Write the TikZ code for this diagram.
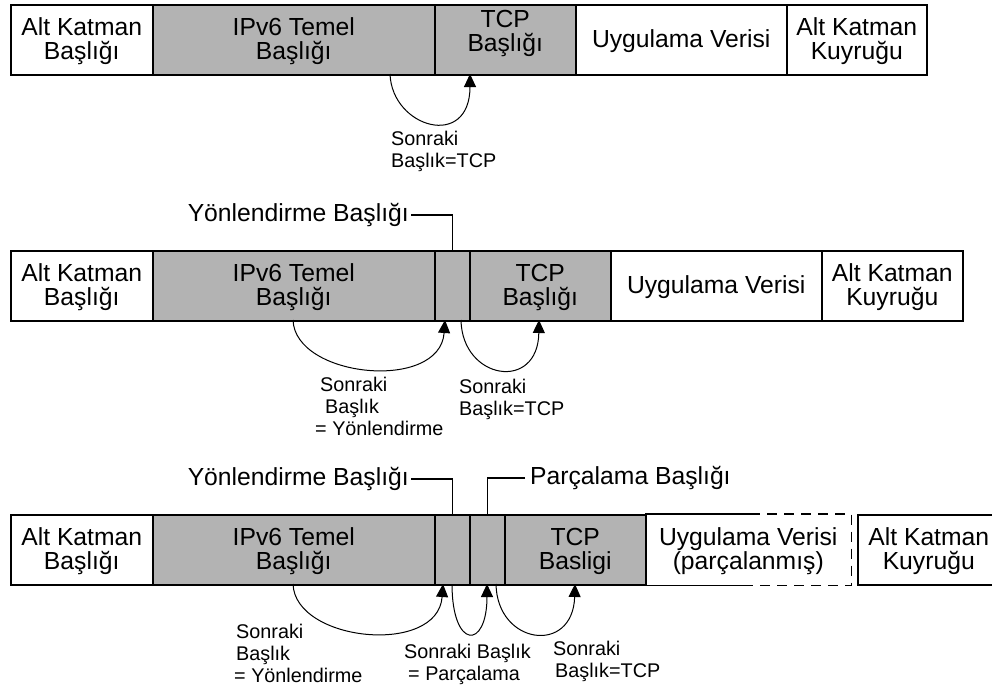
\documentclass[tikz,border=0pt]{standalone}
\usepackage{fontspec}
\setmainfont{Liberation Sans}
\usetikzlibrary{arrows.meta}
\definecolor{cellgray}{RGB}{179,179,179}

\begin{document}
\begin{tikzpicture}[
  x=1pt, y=-1pt,
  every node/.style={inner sep=0pt},
  cell/.style={draw, line width=1.5pt, minimum height=70pt, anchor=north west,
    align=center, text depth=2pt, font=\fontsize{24.7pt}{24pt}\selectfont},
  hdr/.style={cell, fill=cellgray},
  tag/.style={font=\fontsize{24.7pt}{24pt}\selectfont},
  note/.style={anchor=north west, align=left, font=\fontsize{19.8pt}{22pt}\selectfont},
  leader/.style={line width=1.3pt},
  nexthdr/.style={-{Triangle[length=13pt,width=12pt]}, line width=1pt},
]
  \clip (0,0) rectangle (992,686);

  % row 1
  \node[cell, minimum width=142pt] (alt1) at (10,4)  {Alt Katman\\Başlığı};
  \node[hdr,  minimum width=282pt] (ipv1) at (152,4) {IPv6 Temel\\Başlığı};
  \node[hdr,  minimum width=141pt, text depth=18pt] (tcp1) at (434,4) {TCP\\Başlığı};
  \node[cell, minimum width=211pt] (uyg1) at (575,4) {Uygulama Verisi};
  \node[cell, minimum width=140pt] (kuy1) at (786,4) {Alt Katman\\Kuyruğu};
  \coordinate (s1) at (390,74);
  \coordinate (t1) at (470,74);
  \draw[nexthdr] (s1) .. controls (392,128) and (470,150) .. (t1);
  \node[note] (nh1) at (391,131) {Sonraki\\Başlık=TCP};

  % row 2
  \node[cell, minimum width=142pt] (alt2) at (10,250)  {Alt Katman\\Başlığı};
  \node[hdr,  minimum width=282pt] (ipv2) at (152,250) {IPv6 Temel\\Başlığı};
  \node[hdr,  minimum width=35pt]  (rt2)  at (434,250) {};
  \node[hdr,  minimum width=141pt] (tcp2) at (469,250) {TCP\\Başlığı};
  \node[cell, minimum width=211pt] (uyg2) at (610,250) {Uygulama Verisi};
  \node[cell, minimum width=141pt] (kuy2) at (821,250) {Alt Katman\\Kuyruğu};
  \node[tag, inner xsep=2pt, anchor=east] (rtlab2) at (411,215) {Yönlendirme Başlığı};
  \draw[leader] (rtlab2.east) -| (rt2.north);
  \coordinate (s2a) at (293,320);
  \coordinate (t2a) at (445,320);
  \coordinate (s2b) at (461,320);
  \coordinate (t2b) at (539,320);
  \draw[nexthdr] (s2a) .. controls (295,378) and (440,392) .. (t2a);
  \draw[nexthdr] (s2b) .. controls (462,380) and (538,392) .. (t2b);
  \node[note] (nh2a) at (315,377) {\hspace*{5pt}Sonraki\\\hspace*{10pt}Başlık\\= Yönlendirme};
  \node[note] (nh2b) at (459,379) {Sonraki\\Başlık=TCP};

  % row 3
  \node[cell, minimum width=142pt] (alt3) at (10,514)  {Alt Katman\\Başlığı};
  \node[hdr,  minimum width=282pt] (ipv3) at (152,514) {IPv6 Temel\\Başlığı};
  \node[hdr,  minimum width=35pt]  (rt3)  at (434,514) {};
  \node[hdr,  minimum width=35pt]  (fr3)  at (469,514) {};
  \node[hdr,  minimum width=141pt] (tcp3) at (504,514) {TCP\\Basligi};
  \node[cell, draw=none, minimum width=205pt] (uyg3) at (645,514) {Uygulama Verisi\\(parçalanmış)};
  \node[cell, minimum width=142pt] (kuy3) at (857,514) {Alt Katman\\Kuyruğu};
  \draw[line width=1.5pt] (uyg3.north west) -- ++(105,0) coordinate (d1);
  \draw[line width=1.5pt] (uyg3.south west) -- ++(105,0) coordinate (d2);
  \draw[line width=1.5pt, dash pattern=on 10pt off 7pt]
    (d1) -- (uyg3.north east) -- (uyg3.south east) -- (d2);
  \node[tag, inner xsep=2pt, anchor=east] (rtlab3) at (411,479) {Yönlendirme Başlığı};
  \node[tag, inner xsep=5pt, anchor=west] (frlab3) at (525,478) {Parçalama Başlığı};
  \draw[leader] (rtlab3.east) -| (rt3.north);
  \draw[leader] (frlab3.west) -| (fr3.north);
  \coordinate (s3a) at (293,584);
  \coordinate (t3a) at (443,584);
  \coordinate (s3b) at (452,584);
  \coordinate (t3b) at (487,584);
  \coordinate (s3c) at (496,584);
  \coordinate (t3c) at (575,584);
  \draw[nexthdr] (s3a) .. controls (295,642) and (438,656) .. (t3a);
  \draw[nexthdr] (s3b) .. controls (452,650) and (487,650) .. (t3b);
  \draw[nexthdr] (s3c) .. controls (497,645) and (573,655) .. (t3c);
  \node[note] (nh3a) at (234,624) {\hspace*{2pt}Sonraki\\\hspace*{2pt}Başlık\\= Yönlendirme};
  \node[note] (nh3b) at (404,644) {Sonraki Başlık\\\hspace*{4pt}= Parçalama};
  \node[note] (nh3c) at (553,641) {Sonraki\\\hspace*{2pt}Başlık=TCP};
\end{tikzpicture}
\end{document}
